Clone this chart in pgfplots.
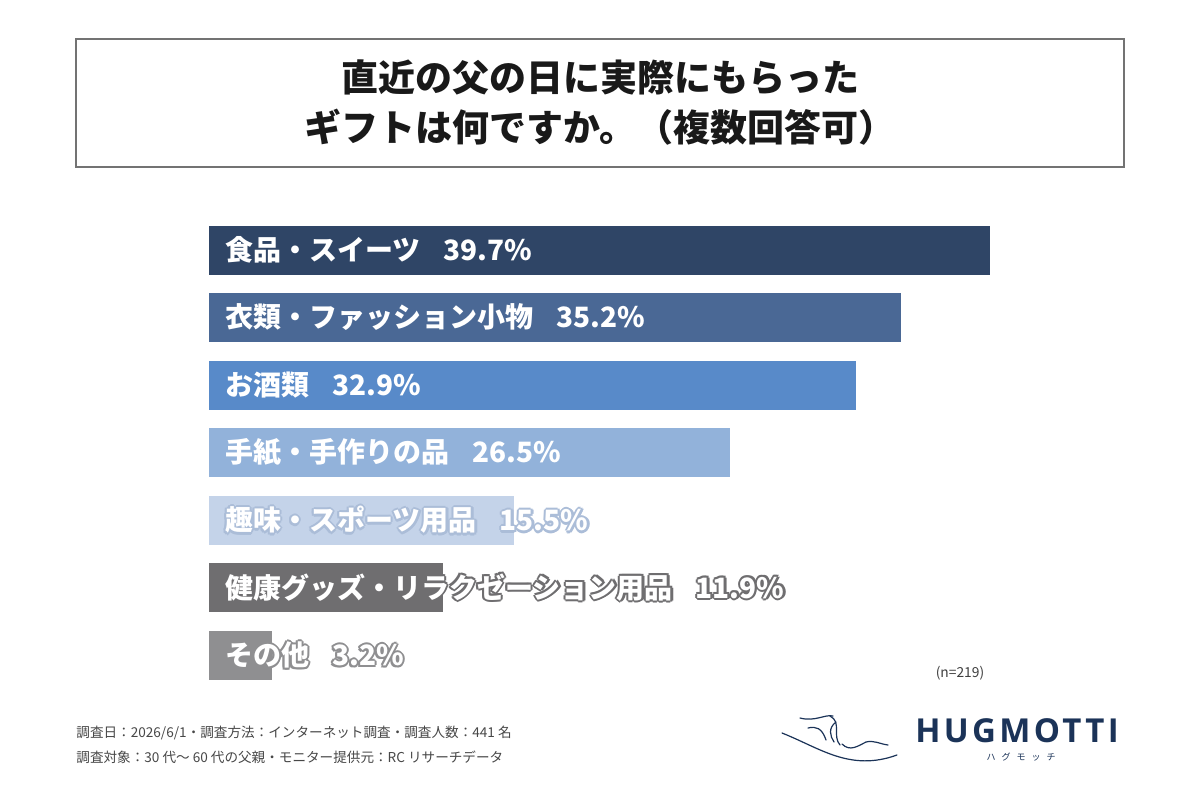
\documentclass[border=0pt]{standalone}
\usepackage{pgfplots}
\pgfplotsset{compat=1.18}
\usepackage{fontspec}
\setmainfont{Noto Sans CJK JP}
\newfontfamily\logofont[LetterSpace=10]{Open Sans}
\definecolor{c1}{HTML}{2F4566}
\definecolor{c2}{HTML}{4A6895}
\definecolor{c3}{HTML}{588AC9}
\definecolor{c4}{HTML}{92B2DA}
\definecolor{c5}{HTML}{C4D3E9}
\definecolor{c6}{HTML}{6F6E70}
\definecolor{c7}{HTML}{8F8F91}
\definecolor{o5}{HTML}{ABBDD8}
\definecolor{navy}{HTML}{1B3358}
\newcommand\labfont{\bfseries\fontsize{14}{17}\selectfont}
\newcommand\olab[3]{%
  \foreach \a in {0,45,...,315}{\node[anchor=west,inner sep=0pt,text=#2,font=\labfont] at ([shift={(\a:1.1pt)},xshift=8pt]#1) {#3};}
  \node[anchor=west,inner sep=0pt,text=white,font=\labfont] at ([xshift=8pt]#1) {#3};
}
\begin{document}
\begin{tikzpicture}
\path[use as bounding box] (0,0) rectangle (600pt,-400pt);
\fill[white] (0,0) rectangle (600pt,-400pt);
% title box
\draw[black!55, line width=1pt] (38pt,-19.5pt) rectangle (562pt,-83.5pt);
\node[font=\bfseries\fontsize{18.5}{25}\selectfont, align=center, text=black!90] at (300pt,-51.5pt) {直近の父の日に実際にもらった\\ギフトは何ですか。（複数回答可）};
\begin{axis}[at={(104.5pt,-108.125pt)}, anchor=north west, scale only axis,
  width=390.5pt, height=236.25pt, xmin=0, xmax=39.7, ymin=-0.5, ymax=6.5,
  y dir=reverse, hide axis, clip=false]
\addplot[xbar, bar width=24.5pt, bar shift=0pt, fill=c1, draw=none] coordinates {(39.7,0)};
\addplot[xbar, bar width=24.5pt, bar shift=0pt, fill=c2, draw=none] coordinates {(35.2,1)};
\addplot[xbar, bar width=24.5pt, bar shift=0pt, fill=c3, draw=none] coordinates {(32.9,2)};
\addplot[xbar, bar width=24.5pt, bar shift=0pt, fill=c4, draw=none] coordinates {(26.5,3)};
\addplot[xbar, bar width=24.5pt, bar shift=0pt, fill=c5, draw=none] coordinates {(15.5,4)};
\addplot[xbar, bar width=24.5pt, bar shift=0pt, fill=c6, draw=none] coordinates {(11.9,5)};
\addplot[xbar, bar width=24.5pt, bar shift=0pt, fill=c7, draw=none] coordinates {(3.2,6)};
\coordinate (L0) at (axis cs:0,0);
\coordinate (L1) at (axis cs:0,1);
\coordinate (L2) at (axis cs:0,2);
\coordinate (L3) at (axis cs:0,3);
\coordinate (L4) at (axis cs:0,4);
\coordinate (L5) at (axis cs:0,5);
\coordinate (L6) at (axis cs:0,6);
\end{axis}
\olab{L0}{c1}{食品・スイーツ\hspace{11.5pt}39.7\%}
\olab{L1}{c2}{衣類・ファッション小物\hspace{11.5pt}35.2\%}
\olab{L2}{c3}{お酒類\hspace{11.5pt}32.9\%}
\olab{L3}{c4}{手紙・手作りの品\hspace{11.5pt}26.5\%}
\olab{L4}{o5}{趣味・スポーツ用品\hspace{11.5pt}15.5\%}
\olab{L5}{c6}{健康グッズ・リラクゼーション用品\hspace{11.5pt}11.9\%}
\olab{L6}{c7}{その他\hspace{11.5pt}3.2\%}
% n
\node[font=\fontsize{6.9}{8}\selectfont, text=black!75] at (480pt,-336.5pt) {(n=219)};
% footnotes
\node[anchor=west, inner sep=0pt, font=\fontsize{6.8}{8}\selectfont, text=black!72] at (38pt,-366.5pt) {調査日：2026/6/1・調査方法：インターネット調査・調査人数：441 名};
\node[anchor=west, inner sep=0pt, font=\fontsize{6.8}{8}\selectfont, text=black!72] at (38pt,-378.5pt) {調査対象：30 代～ 60 代の父親・モニター提供元：RC リサーチデータ};
% logo
\node[anchor=base west, inner sep=0pt, font=\logofont\bfseries\fontsize{16.5}{20}\selectfont, text=navy] at (457.5pt,-371pt) {HUGMOTTI};
\node[inner sep=0pt, font=\fontsize{4.5}{5}\selectfont, text=navy] at (510.5pt,-378.5pt) {ハ\hspace{3pt}グ\hspace{3pt}モ\hspace{3pt}ッ\hspace{3pt}チ};
\begin{scope}[x=0.5pt, y=-0.5pt, navy, line width=0.6pt, line cap=round]
\draw (782,733) .. controls (820,748) and (850,772) .. (897,755);
\draw (800,718) .. controls (815,722) and (825,714) .. (833,716);
\draw (808,728) .. controls (816,726) and (822,728) .. (826,740);
\draw (830,716) .. controls (842,722) and (832,736) .. (840,745);
\draw (836,722) .. controls (828,728) and (830,736) .. (834,742);
\draw (842,744) .. controls (850,752) and (858,746) .. (866,742) .. controls (874,740) and (880,744) .. (888,745);
\end{scope}
\end{tikzpicture}
\end{document}
